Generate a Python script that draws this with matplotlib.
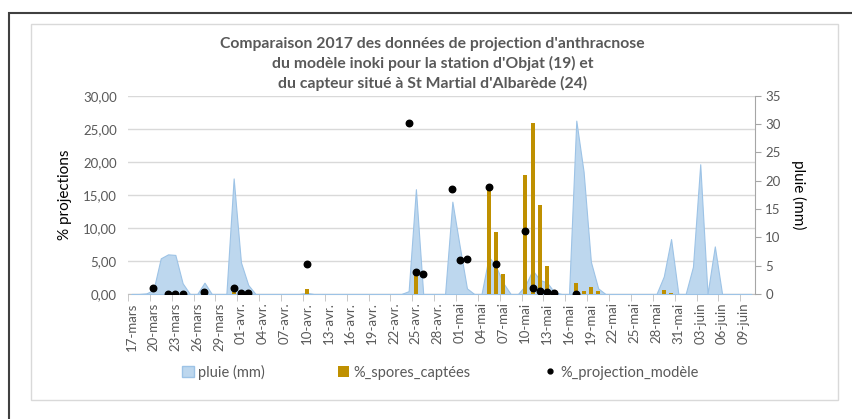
import matplotlib.pyplot as plt
import matplotlib.dates as mdates
import matplotlib.patches as mpatches
from matplotlib.lines import Line2D
from matplotlib.ticker import FuncFormatter
import pandas as pd

plt.rcParams['font.family'] = ['Lato', 'DejaVu Sans']

title = ("Comparaison 2017 des données de projection d'anthracnose\n"
         "du modèle inoki pour la station d'Objat (19) et\n"
         "du capteur situé à St Martial d'Albarède (24)")

start = "2017-03-17"
end = "2017-06-10"

# pluie journaliere (mm), du 17 mars au 10 juin
pluie_mm = [0, 0, 0.1, 0.7, 6.3, 7.0, 6.9, 1.9, 0, 0,
            2.0, 0, 0, 0, 20.4, 5.6, 1.6, 0, 0, 0,
            0, 0, 0, 0, 0.2, 0, 0, 0, 0, 0,
            0, 0, 0, 0, 0, 0, 0, 0, 0.5, 18.5,
            0, 0, 0, 0, 16.3, 8.5, 1.0, 0, 0, 6.6,
            4.8, 1.9, 0, 0, 1.5, 4.2, 2.5, 2.0, 0.3, 0,
            0, 30.6, 21.6, 5.7, 1.0, 0, 0, 0, 0, 0,
            0, 0, 0, 3.1, 9.7, 0, 0, 4.8, 22.9, 0,
            8.4, 0, 0, 0, 0, 0]

spores_dates = ["2017-03-31", "2017-04-10", "2017-04-25", "2017-05-05",
                "2017-05-06", "2017-05-07", "2017-05-10", "2017-05-11",
                "2017-05-12", "2017-05-13", "2017-05-17", "2017-05-18",
                "2017-05-19", "2017-05-20", "2017-05-29", "2017-05-30"]
spores_pct = [0.25, 0.75, 3.1, 16.2, 9.4, 3.1, 18.0, 25.9,
              13.4, 4.2, 1.6, 0.4, 1.06, 0.4, 0.55, 0.15]

proj_dates = ["2017-03-20", "2017-03-22", "2017-03-23", "2017-03-24",
              "2017-03-27", "2017-03-31", "2017-04-01", "2017-04-02",
              "2017-04-10", "2017-04-24", "2017-04-25", "2017-04-26",
              "2017-04-30", "2017-05-01", "2017-05-02", "2017-05-05",
              "2017-05-06", "2017-05-10", "2017-05-11", "2017-05-12",
              "2017-05-13", "2017-05-14", "2017-05-17"]
proj_pct = [0.86, 0.05, 0.05, 0.05, 0.35, 0.86, 0.2, 0.2,
            4.5, 25.8, 3.3, 3.0, 15.9, 5.1, 5.3, 16.2,
            4.5, 9.6, 0.9, 0.45, 0.25, 0.15, 0.05]

tick_labels = ["17-mars", "20-mars", "23-mars", "26-mars", "29-mars",
               "01-avr.", "04-avr.", "07-avr.", "10-avr.", "13-avr.",
               "16-avr.", "19-avr.", "22-avr.", "25-avr.", "28-avr.",
               "01-mai", "04-mai", "07-mai", "10-mai", "13-mai",
               "16-mai", "19-mai", "22-mai", "25-mai", "28-mai",
               "31-mai", "03-juin", "06-juin", "09-juin"]

grey = "#595959"
days = mdates.date2num(pd.date_range(start, end))
x_spores = mdates.date2num(pd.to_datetime(spores_dates))
x_proj = mdates.date2num(pd.to_datetime(proj_dates))
x_ticks = days[::3]

fig = plt.figure(figsize=(8.53, 4.19), dpi=100)
rect = [0.150, 0.2983, 0.735, 0.4733]

# base axes: % axis on the left + gridlines
ax = fig.add_axes(rect)
ax.set_ylim(0, 30)
ax.set_yticks(range(0, 31, 5))
ax.yaxis.set_major_formatter(FuncFormatter(lambda v, p: f"{v:.2f}".replace(".", ",")))
ax.grid(axis="y", color="#D9D9D9", linewidth=1)
ax.set_axisbelow(True)
for s in ["left", "top", "right"]:
    ax.spines[s].set_visible(False)
ax.spines["bottom"].set_color("#BFBFBF")
ax.tick_params(axis="y", length=0, labelsize=9.5, labelcolor=grey, pad=8)
ax.set_ylabel("% projections", fontsize=11, color="black", labelpad=8)
ax.set_xlim(days[0] - 0.5, days[-1] + 0.5)
ax.set_xticks(x_ticks)
ax.set_xticklabels(tick_labels, rotation=90)
ax.set_xticks(x_ticks - 0.5, minor=True)
ax.tick_params(axis="x", which="major", length=0, labelsize=9.5, labelcolor=grey, pad=6)
ax.tick_params(axis="x", which="minor", length=5, color="#BFBFBF")

# rain axes on the right
ax_r = ax.twinx()
ax_r.fill_between(days, pluie_mm, color="#BDD7EE", edgecolor="#9DC3E6", linewidth=0.8)
ax_r.set_ylim(0, 35)
ax_r.set_yticks(range(0, 36, 5))
ax_r.set_xlim(days[0] - 0.5, days[-1] + 0.5)
for s in ["left", "top", "bottom"]:
    ax_r.spines[s].set_visible(False)
ax_r.spines["right"].set_color("#A6A6A6")
ax_r.tick_params(axis="y", length=4, color="#A6A6A6", labelsize=9.5, labelcolor=grey)
ax_r.set_ylabel("pluie (mm)", fontsize=11, rotation=270, labelpad=18)

# top axes for bars and points
ax_t = fig.add_axes(rect, sharex=ax, sharey=ax, frameon=False)
ax_t.bar(x_spores, spores_pct, width=0.55, color="#BF9000", zorder=2)
ax_t.scatter(x_proj, proj_pct, s=22, color="black", zorder=3)
ax_t.tick_params(left=False, bottom=False, labelleft=False, labelbottom=False,
                 which="both")

fig.text(0.507, 1 - 37 / 419, title, ha="center", va="top", fontsize=11.3,
         fontweight="bold", color=grey, linespacing=1.42)

handles = [mpatches.Patch(facecolor="#BDD7EE", edgecolor="#9DC3E6"),
           mpatches.Patch(facecolor="#BF9000"),
           Line2D([], [], marker="o", color="black", linestyle="", markersize=3.5)]
fig.legend(handles, ["pluie (mm)", "%_spores_captées", "%_projection_modèle"],
           loc="center", bbox_to_anchor=(0.516, 0.112), ncol=3, frameon=False,
           fontsize=10.5, labelcolor=grey, columnspacing=5.0, handlelength=0.8,
           handletextpad=0.3)

# chart frames
fig.patches.append(mpatches.Rectangle((30.7 / 853, 1 - 400 / 419), 807 / 853, 376 / 419,
                                      transform=fig.transFigure, fill=False,
                                      edgecolor="#D9D9D9", linewidth=1))
fig.patches.append(mpatches.Rectangle((9 / 853, -0.1), 860 / 853, 1.1 - 13.3 / 419,
                                      transform=fig.transFigure, fill=False,
                                      edgecolor="#404040", linewidth=1.5))

fig.savefig("out.png", dpi=100)
